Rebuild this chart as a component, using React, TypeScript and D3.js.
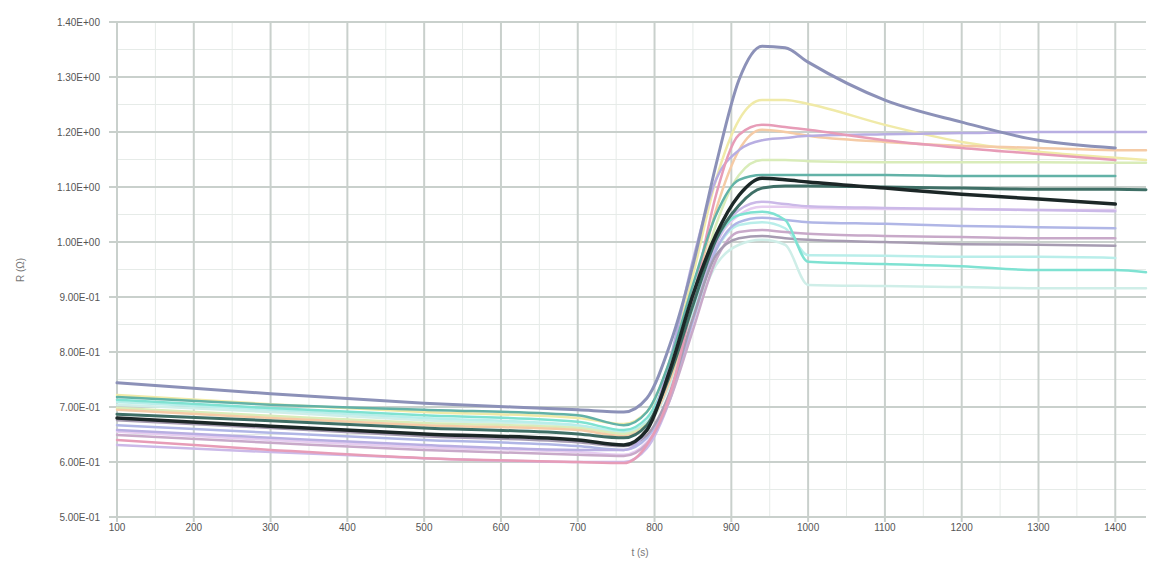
import React from "react";
import * as d3 from "d3";

const xValues = [100, 300, 500, 700, 760, 790, 820, 850, 880, 910, 940, 970, 1000, 1100, 1200, 1300, 1400, 1440];
const xTicks = [100, 200, 300, 400, 500, 600, 700, 800, 900, 1000, 1100, 1200, 1300, 1400];
const yTicks = [0.5, 0.6, 0.7, 0.8, 0.9, 1.0, 1.1, 1.2, 1.3, 1.4];

const sLightTeal = [0.704, 0.691, 0.676, 0.665, 0.653, 0.667, 0.740, 0.858, 0.958, 0.995, 1.004, 0.995, 0.922, 0.920, 0.918, 0.916, 0.916, 0.916];
const sLightCyan = [0.709, 0.695, 0.680, 0.667, 0.655, 0.673, 0.749, 0.876, 0.985, 1.031, 1.036, 1.025, 0.976, 0.975, 0.973, 0.973, 0.971, null];
const sLilac = [0.655, 0.640, 0.627, 0.618, 0.613, 0.636, 0.716, 0.855, 0.995, 1.049, 1.064, 1.064, 1.062, 1.060, 1.060, 1.058, 1.058, null];
const sYellow = [0.722, 0.705, 0.691, 0.680, 0.669, 0.691, 0.785, 0.940, 1.113, 1.222, 1.258, 1.258, 1.251, 1.213, 1.182, 1.164, 1.153, 1.149];
const sYellowGreen = [0.698, 0.684, 0.671, 0.662, 0.651, 0.669, 0.749, 0.885, 1.031, 1.122, 1.149, 1.149, 1.147, 1.145, 1.145, 1.145, 1.144, 1.144];
const sPeach = [0.695, 0.680, 0.667, 0.658, 0.647, 0.667, 0.749, 0.895, 1.058, 1.167, 1.204, 1.200, 1.193, 1.182, 1.175, 1.171, 1.167, 1.167];
const sLavender = [0.631, 0.618, 0.607, 0.600, 0.600, 0.625, 0.713, 0.858, 0.995, 1.058, 1.073, 1.069, 1.065, 1.062, 1.060, 1.058, 1.056, null];
const sBlueLavender = [0.667, 0.653, 0.640, 0.629, 0.622, 0.644, 0.722, 0.858, 0.985, 1.036, 1.044, 1.040, 1.036, 1.033, 1.029, 1.027, 1.025, null];
const sMauve = [0.649, 0.635, 0.622, 0.613, 0.611, 0.633, 0.713, 0.840, 0.967, 1.018, 1.022, 1.018, 1.015, 1.011, 1.009, 1.007, 1.007, null];
const sGrayMauve = [0.676, 0.662, 0.647, 0.636, 0.629, 0.649, 0.727, 0.862, 0.976, 1.007, 1.011, 1.007, 1.004, 1.000, 0.996, 0.995, 0.993, null];
const sCyan = [0.713, 0.698, 0.685, 0.673, 0.658, 0.680, 0.767, 0.895, 1.004, 1.049, 1.055, 1.040, 0.964, 0.960, 0.956, 0.949, 0.949, 0.945];
const sPurple = [0.658, 0.644, 0.631, 0.622, 0.622, 0.658, 0.785, 0.967, 1.113, 1.167, 1.185, 1.189, 1.193, 1.196, 1.198, 1.200, 1.200, 1.200];
const sPink = [0.640, 0.622, 0.607, 0.600, 0.598, 0.631, 0.722, 0.895, 1.085, 1.195, 1.213, 1.209, 1.204, 1.185, 1.171, 1.160, 1.149, null];
const sTeal = [0.718, 0.704, 0.695, 0.685, 0.667, 0.691, 0.785, 0.922, 1.049, 1.113, 1.122, 1.122, 1.122, 1.122, 1.120, 1.120, 1.120, null];
const sDarkTeal = [0.687, 0.675, 0.662, 0.651, 0.644, 0.667, 0.758, 0.885, 1.004, 1.067, 1.098, 1.102, 1.102, 1.100, 1.098, 1.096, 1.096, 1.095];
const sSlate = [0.744, 0.724, 0.707, 0.695, 0.691, 0.716, 0.813, 0.958, 1.140, 1.295, 1.356, 1.353, 1.327, 1.258, 1.218, 1.185, 1.171, null];
const sBlack = [0.680, 0.665, 0.651, 0.640, 0.631, 0.658, 0.767, 0.904, 1.013, 1.085, 1.116, 1.113, 1.109, 1.098, 1.087, 1.078, 1.069, null];

const series = [
  { name: "s1", values: sLightTeal, color: "#cfeee8", width: 2.5 },
  { name: "s2", values: sLightCyan, color: "#b9eeea", width: 2.5 },
  { name: "s3", values: sLilac, color: "#e6cdf0", width: 2.5 },
  { name: "s4", values: sYellow, color: "#f0eaa8", width: 2.5 },
  { name: "s5", values: sYellowGreen, color: "#d9ecb9", width: 2.5 },
  { name: "s6", values: sPeach, color: "#f5cba6", width: 2.5 },
  { name: "s7", values: sLavender, color: "#cbb9e8", width: 2.5 },
  { name: "s8", values: sBlueLavender, color: "#b0b6e6", width: 2.5 },
  { name: "s9", values: sMauve, color: "#c8a9c9", width: 2.5 },
  { name: "s10", values: sGrayMauve, color: "#a79cb2", width: 2.5 },
  { name: "s11", values: sCyan, color: "#7fe2d2", width: 2.5 },
  { name: "s12", values: sPurple, color: "#b8aee2", width: 2.5 },
  { name: "s13", values: sPink, color: "#e79cb7", width: 2.5 },
  { name: "s14", values: sTeal, color: "#62b2a7", width: 2.5 },
  { name: "s15", values: sDarkTeal, color: "#3f6f66", width: 3 },
  { name: "s16", values: sSlate, color: "#8c91b8", width: 3 },
  { name: "s17", values: sBlack, color: "#1c2727", width: 3.5 },
];

const W = 1152;
const H = 563;

function fmtE(v: number): string {
  const [m, e] = v.toExponential(2).split("e");
  const n = +e;
  return `${m}E${n < 0 ? "-" : "+"}${String(Math.abs(n)).padStart(2, "0")}`;
}

export default function App() {
  const x = d3.scaleLinear().domain([100, 1440]).range([117, 1146]);
  const y = d3.scaleLinear().domain([0.5, 1.4]).range([517, 22]);
  const line = d3
    .line<number | null>()
    .defined((d) => d !== null)
    .x((_, i) => x(xValues[i]))
    .y((d) => y(d as number))
    .curve(d3.curveMonotoneX);

  const minorX = xTicks.map((t) => t + 50).filter((t) => t <= 1440);
  const minorY = yTicks.slice(0, -1).map((t) => t + 0.05);

  return (
    <div style={{ position: "fixed", left: 0, top: 0, width: W, height: H, background: "#fff" }}>
      <svg width={W} height={H} style={{ display: "block", fontFamily: "'Liberation Sans', Arial, sans-serif" }}>
        <rect x={0} y={0} width={W} height={H} fill="#ffffff" />
        {minorX.map((t) => (
          <line key={"mx" + t} x1={x(t)} x2={x(t)} y1={y(1.4)} y2={y(0.5)} stroke="#e6ebe8" strokeWidth={1} />
        ))}
        {minorY.map((t) => (
          <line key={"my" + t} x1={x(100)} x2={x(1440)} y1={y(t)} y2={y(t)} stroke="#e6ebe8" strokeWidth={1} />
        ))}
        {xTicks.map((t) => (
          <line key={"gx" + t} x1={x(t)} x2={x(t)} y1={y(1.4)} y2={y(0.5) + 5} stroke="#c9d0cc" strokeWidth={2} />
        ))}
        {yTicks.map((t) => (
          <line key={"gy" + t} x1={x(100) - 8} x2={x(1440)} y1={y(t)} y2={y(t)} stroke="#c9d0cc" strokeWidth={2} />
        ))}
        {series.map((s) => (
          <path
            key={s.name}
            d={line(s.values) || ""}
            fill="none"
            stroke={s.color}
            strokeWidth={s.width}
            strokeLinejoin="round"
            strokeLinecap="round"
          />
        ))}
        {yTicks.map((t) => (
          <text key={"ly" + t} x={100} y={y(t)} dy="0.35em" textAnchor="end" fontSize={10} fill="#555">
            {fmtE(t)}
          </text>
        ))}
        {xTicks.map((t) => (
          <text key={"lx" + t} x={x(t)} y={531} textAnchor="middle" fontSize={10} fill="#555">
            {t}
          </text>
        ))}
        <text x={640} y={556} textAnchor="middle" fontSize={10} fill="#777">
          t (s)
        </text>
        <text transform="translate(24,270) rotate(-90)" textAnchor="middle" fontSize={10} fill="#777">
          R (Ω)
        </text>
      </svg>
    </div>
  );
}
